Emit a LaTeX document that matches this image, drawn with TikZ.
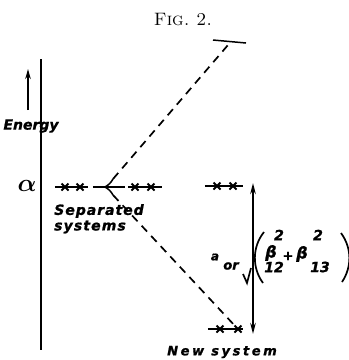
\documentclass[tikz,border=0pt]{standalone}
\usepackage{amsmath}
\usepackage{bm}
\usepackage{fontspec}
\newfontfamily\hand[FakeBold=1.2]{DejaVu Sans}
\usetikzlibrary{arrows.meta}
\tikzset{
  lvl/.style={line width=1.5pt},
  dsh/.style={line width=1.7pt, dash pattern=on 8pt off 6pt},
  axis/.style={line width=1.9pt},
  tip/.style={-{Stealth[length=10pt,width=5.5pt]}},
  lab/.style={inner sep=0pt, font=\hand\bfseries\itshape},
  xm/.pic={\draw[line width=1.9pt] (-3.5,-3.5)--(3.5,3.5) (-3.5,3.5)--(3.5,-3.5);}
}
\begin{document}
\begin{tikzpicture}[x=1pt,y=-1pt]
\useasboundingbox (0,0) rectangle (349,360);
% title
\node[inner sep=0pt] (title) at (183,20) {\fontsize{18}{20}\selectfont\textsc{Fig.\ 2.}};
% axis
\coordinate (axT) at (41,59);
\coordinate (axB) at (41,350);
\draw[axis] (axT) -- (axB);
% energy arrow
\coordinate (eB) at (28,110);
\coordinate (eT) at (28,69);
\draw[line width=1.6pt, tip] (eB) -- (eT);
\node[lab, font=\hand\bfseries\itshape\fontsize{14}{16}\selectfont] (energy) at (31,126) {Energy};
\node[inner sep=0pt] (alpha) at (27,186) {\fontsize{23}{23}\selectfont$\bm{\alpha}$};
% separated systems levels
\coordinate (a1) at (55,187); \coordinate (a2) at (88,187);
\coordinate (b1) at (93,187); \coordinate (b2) at (125,187);
\coordinate (c1) at (128,187); \coordinate (c2) at (162,187);
\coordinate (d1) at (205,186); \coordinate (d2) at (243,186);
\draw[lvl] (a1) -- (a2);
\draw[lvl] (b1) -- (b2);
\draw[lvl] (c1) -- (c2);
\draw[lvl] (d1) -- (d2);
\pic at (65,187) {xm}; \pic at (80,187) {xm};
\pic at (135,187) {xm}; \pic at (151,187) {xm};
\pic at (217,186) {xm}; \pic at (233,186) {xm};
% left arrowhead
\coordinate (hv) at (105,187);
\coordinate (hu) at (113,179);
\coordinate (hd) at (113,195);
\draw[lvl] (hu) to[bend left=15] (hv) to[bend left=15] (hd);
% upper state
\coordinate (up1) at (213,40); \coordinate (up2) at (246,43);
\draw[lvl] (up1) -- (up2);
\coordinate (upd) at (228,45);
\draw[dsh] (hu) -- (upd);
% new system level
\coordinate (n1) at (208,329); \coordinate (n2) at (243,329);
\draw[lvl] (n1) -- (n2);
\pic at (220,329) {xm}; \pic at (238,329) {xm};
\coordinate (nd) at (236,327);
\draw[dsh] (hd) -- (nd);
% vertical double arrow
\coordinate (vT) at (253,183);
\coordinate (vB) at (253,334);
\draw[line width=1.8pt, {Stealth[length=11pt,width=5.5pt]}-{Stealth[length=11pt,width=5.5pt]}] (vT) -- (vB);
% sqrt tick
\coordinate (s1) at (243,274); \coordinate (s2) at (247,283); \coordinate (s3) at (251,268);
\draw[line width=1.7pt] (s1) -- (s2) -- (s3);
% labels
\node[lab, font=\hand\bfseries\itshape\fontsize{14}{16}\selectfont\addfontfeature{LetterSpace=7}] (sep) at (99,211) {Separated};
\node[lab, font=\hand\bfseries\itshape\fontsize{14}{16}\selectfont\addfontfeature{LetterSpace=8}] (sys) at (90,227) {systems};
\node[lab, font=\hand\bfseries\itshape\fontsize{13}{15}\selectfont\addfontfeature{LetterSpace=20}] (new) at (222,352) {New system};
\node[lab, font=\hand\bfseries\itshape\fontsize{12}{12}\selectfont] (aa) at (215,257) {a};
\node[lab, font=\hand\bfseries\itshape\fontsize{13}{13}\selectfont] (or) at (231,266) {or};
% parentheses
\coordinate (pl1) at (264,232); \coordinate (pl2) at (263,283);
\draw[line width=1.7pt] (pl1) .. controls (252,247) and (252,268) .. (pl2);
\coordinate (pr1) at (341,233); \coordinate (pr2) at (342,282);
\draw[line width=1.7pt] (pr1) .. controls (352,248) and (352,267) .. (pr2);
\node[lab, font=\hand\bfseries\itshape\fontsize{16}{16}\selectfont] (beta1) at (271,253) {β};
\node[lab, font=\hand\bfseries\itshape\fontsize{14}{14}\selectfont] (e1) at (279,235) {2};
\node[lab, font=\hand\bfseries\fontsize{13}{13}\selectfont] (plus) at (288,256) {+};
\node[lab, font=\hand\bfseries\itshape\fontsize{16}{16}\selectfont] (beta2) at (302,254) {β};
\node[lab, font=\hand\bfseries\itshape\fontsize{14}{14}\selectfont] (e2) at (318,235) {2};
\node[lab, font=\hand\bfseries\itshape\fontsize{14}{14}\selectfont] (i1) at (274,267) {12};
\node[lab, font=\hand\bfseries\itshape\fontsize{14}{14}\selectfont] (i2) at (320,267) {13};
\end{tikzpicture}
\end{document}
